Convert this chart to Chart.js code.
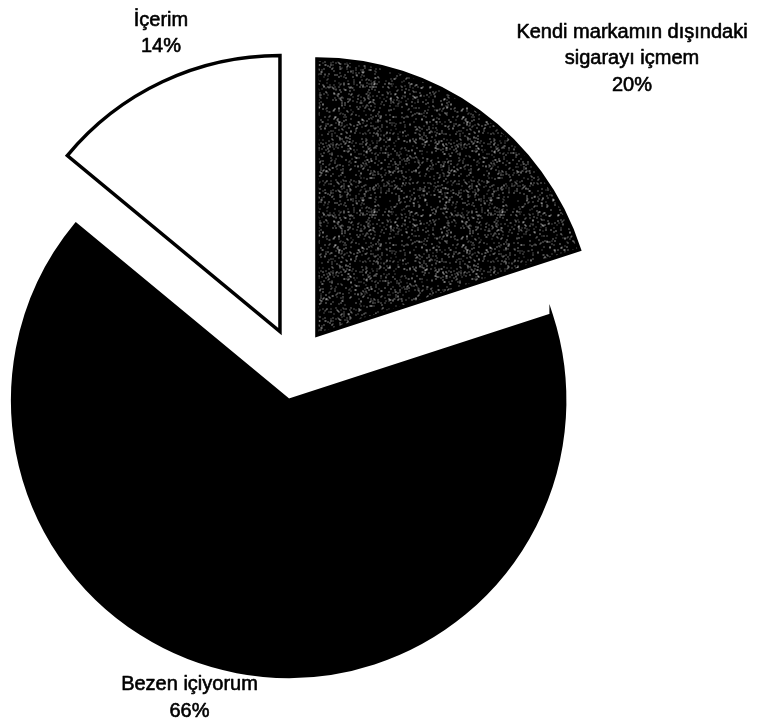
<!DOCTYPE html>
<html>
<head>
<meta charset="utf-8">
<script src="https://cdn.jsdelivr.net/npm/chart.js@4/dist/chart.umd.min.js"></script>
<style>
  html, body { margin: 0; padding: 0; background: #ffffff; }
  #wrap { width: 758px; height: 725px; }
</style>
</head>
<body>
<div id="wrap"><canvas id="pie" width="758" height="725"></canvas></div>
<script>
// Survey answers, clockwise from 12 o'clock
const categories = [
  ['Kendi markamın dışındaki', 'sigarayı içmem'],
  ['Bezen içiyorum'],
  ['İçerim']
];
const shares = [20, 66, 14];

// Dark speckled fill for the first slice
function speckleFill(size) {
  const c = document.createElement('canvas');
  c.width = c.height = size;
  const g = c.getContext('2d');
  g.fillStyle = '#000';
  g.fillRect(0, 0, size, size);
  const img = g.getImageData(0, 0, size, size);
  let s = 20240611;
  for (let i = 0; i < size * size; i++) {
    s = (Math.imul(s, 1664525) + 1013904223) >>> 0;
    if ((s >>> 8) % 1000 < 85) {
      const v = 110 + ((s >>> 20) % 145);
      img.data[i * 4] = img.data[i * 4 + 1] = img.data[i * 4 + 2] = v;
    }
  }
  g.putImageData(img, 0, 0);
  return g.createPattern(c, 'repeat');
}

// Keep every exploded slice at the same radius and full angle:
// ArcElement grows the radius of wide slices with their offset, undo that here.
const evenExplode = {
  id: 'evenExplode',
  afterDatasetUpdate(chart, args) {
    const meta = args.meta;
    const R = meta.controller.outerRadius;
    meta.data.forEach(arc => {
      const shift = (arc.options.offset || 0) / 4;
      const fix = 1 - Math.sin(Math.min(Math.PI, arc.circumference));
      const grow = shift * fix;
      arc.outerRadius = R - grow;
      const trim = grow / Math.PI / R / 2;
      arc.startAngle -= trim;
      arc.endAngle += trim;
    });
  }
};

// Category name and percentage written next to each slice
const sliceLabels = {
  id: 'sliceLabels',
  afterDraw(chart, args, opts) {
    const ctx = chart.ctx;
    const data = chart.data.datasets[0].data;
    ctx.save();
    ctx.fillStyle = opts.color;
    ctx.strokeStyle = opts.color;
    ctx.lineWidth = opts.weight;
    ctx.lineJoin = 'round';
    ctx.font = opts.font;
    ctx.textAlign = 'center';
    ctx.textBaseline = 'alphabetic';
    chart.data.labels.forEach((lines, i) => {
      const a = opts.anchors[i];
      const text = [].concat(lines, [data[i] + '%']);
      text.forEach((t, k) => {
        const y = a.y + k * opts.lineHeight;
        ctx.fillText(t, a.x, y);
        ctx.strokeText(t, a.x, y);
      });
    });
    ctx.restore();
  }
};

new Chart(document.getElementById('pie'), {
  type: 'pie',
  data: {
    labels: categories,
    datasets: [{
      data: shares,
      backgroundColor: [speckleFill(128), '#000000', '#ffffff'],
      borderColor: '#000000',
      borderWidth: 3.5,
      borderJoinStyle: 'miter',
      offset: [146, 146, 146]
    }]
  },
  options: {
    responsive: false,
    animation: false,
    events: [],
    radius: 276,
    layout: { padding: { left: 0, right: 167, top: 4, bottom: 0 } },
    plugins: {
      legend: { display: false },
      tooltip: { enabled: false },
      sliceLabels: {
        color: '#000000',
        weight: 0.6,
        font: '20px "Liberation Sans", Arial, sans-serif',
        lineHeight: 26.8,
        anchors: [
          { x: 632, y: 37.5 },
          { x: 189.5, y: 690 },
          { x: 161, y: 25.5 }
        ]
      }
    }
  },
  plugins: [evenExplode, sliceLabels]
});
</script>
</body>
</html>
